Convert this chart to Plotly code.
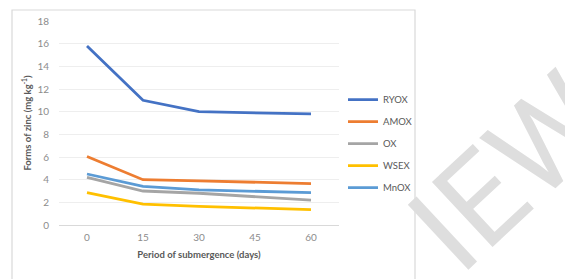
import plotly.graph_objects as go

days = ["0", "15", "30", "45", "60"]
series_names = ["RYOX", "AMOX", "OX", "WSEX", "MnOX"]
ryox = [15.8, 11.0, 10.0, 9.9, 9.8]
amox = [6.05, 4.0, 3.9, 3.8, 3.65]
ox = [4.2, 3.0, 2.8, 2.5, 2.2]
wsex = [2.85, 1.85, 1.65, 1.5, 1.35]
mnox = [4.5, 3.4, 3.1, 2.95, 2.85]
colors = ["#4472C4", "#ED7D31", "#A5A5A5", "#FFC000", "#5B9BD5"]
y_ticks = [0, 2, 4, 6, 8, 10, 12, 14, 16, 18]

D = 8  # page body margin offset
W, H = 573 - D, 279 - D
L, R, T, B = 59 - D, 339 - D, 21 - D, 224.6 - D

def px(x):
    return (x - D - L) / (R - L)

def py(y):
    return (B - (y - D)) / (B - T)

FONT = "Lato, Open Sans, sans-serif"

fig = go.Figure()
for i, (name, vals) in enumerate(zip(series_names, [ryox, amox, ox, wsex, mnox])):
    fig.add_trace(go.Scatter(
        x=days, y=vals, name=name, mode="lines",
        line=dict(color=colors[i], width=2.8),
        legendgroup=name,
    ))

fig.update_layout(
    width=W, height=H,
    margin=dict(l=L, r=W - R, t=T, b=H - B, pad=0, autoexpand=False),
    paper_bgcolor="white", plot_bgcolor="rgba(0,0,0,0)",
    font=dict(family=FONT, color="#595959"),
    showlegend=True,
    legend=dict(
        x=px(343), y=py(85), xanchor="left", yanchor="top",
        font=dict(size=9.5, color="#595959", family=FONT),
        tracegroupgap=3, itemwidth=30, bgcolor="rgba(0,0,0,0)",
    ),
    xaxis=dict(
        type="category", range=[-0.5, 4.5], showgrid=False, showline=True, linecolor="#d9d9d9",
        linewidth=1, ticks="", tickfont=dict(size=10, color="#8c8c8c"), automargin=False,
        ticklabelstandoff=3,
        title=dict(text="<b>Period of submergence (days)</b>", font=dict(size=9.5, color="#595959"), standoff=9),
        zeroline=False,
    ),
    yaxis=dict(
        range=[0, 18], tickvals=y_ticks, showgrid=True, gridcolor="#eeeeee",
        gridwidth=1, zeroline=False, showline=False, ticks="", automargin=False,
        tickfont=dict(size=10, color="#8c8c8c"), ticklabelstandoff=9,
        title=dict(text="<b>Forms of zinc (mg kg<sup>-1</sup>)</b>", font=dict(size=9.5, color="#595959"), standoff=4),
    ),
)

# chart frame
fig.add_shape(type="rect", xref="paper", yref="paper",
              x0=px(12), x1=px(415), y0=py(300), y1=py(10),
              line=dict(color="#d9d9d9", width=1.2), fillcolor="white", layer="below")

# watermark
fig.add_annotation(text="IEW", xref="paper", yref="paper", x=px(510), y=py(172),
                   xanchor="center", yanchor="middle",
                   showarrow=False, textangle=-43,
                   font=dict(size=125, color="#dedede", family="Roboto", weight=400))

fig.write_html("out.html")
